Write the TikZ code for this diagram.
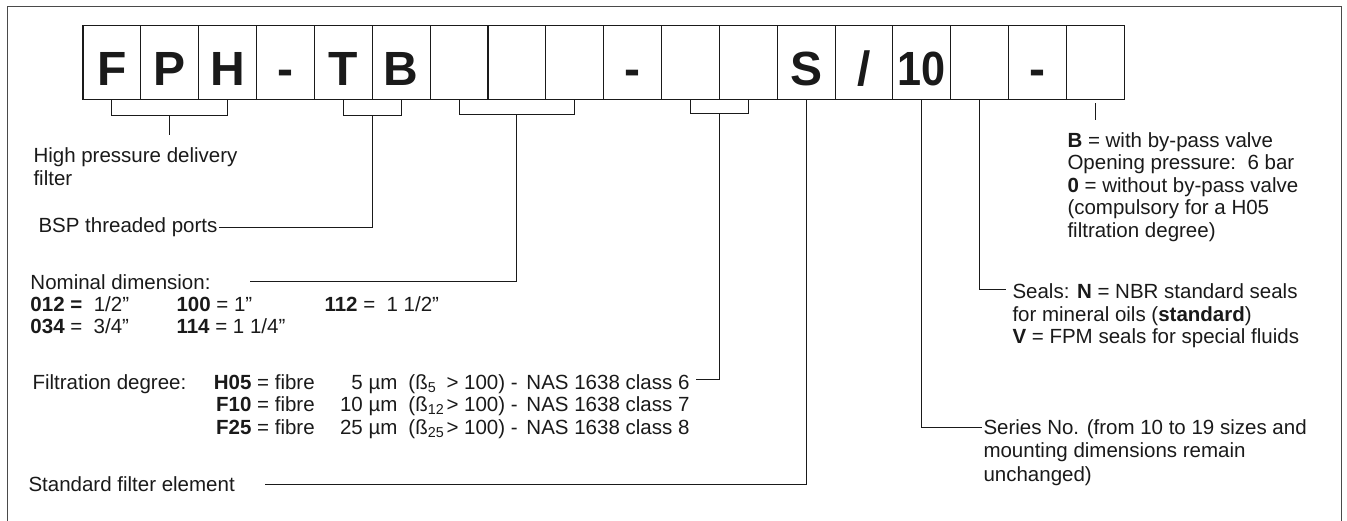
\documentclass[tikz,border=0pt]{standalone}
\usepackage{fontspec}
\usepackage{graphicx}
\setmainfont{Liberation Sans}
\usetikzlibrary{positioning,calc}
\definecolor{ink}{HTML}{1A1A1A}
\definecolor{rim}{HTML}{4A4A4A}
\tikzset{
  every picture/.style={line width=1pt, color=ink},
  cell/.style={draw=ink, line width=1.1pt, minimum width=57.85pt, text height=59.3pt, text depth=14.7pt, inner sep=0pt, font=\fontsize{48}{48}\selectfont\bfseries},
  txt/.style={inner sep=0pt, align=left, font=\fontsize{20.5}{22.5}\selectfont},
  lead/.style={draw=ink, line width=1pt},
}
\begin{document}
\begin{tikzpicture}[x=1pt, y=-1pt]
\useasboundingbox (0,0) rectangle (1347,521);
\draw[rim, line width=1.3pt] (7.3,530) -- (7.3,6.7) -- (1341.5,6.7) -- (1341.5,530);
% code boxes
\foreach \ch [count=\i] in {F,P,H,-,T,B,{},{},{},-,{},{},S,/,{\scalebox{0.9}[1]{10}},{},-,{}}
  \node[cell] (c\i) at ({83+(\i-0.5)*57.85}, 62.85) {\ch};
% brackets
\draw[lead] (c1.south) -- ++(0,15) -| (c3.south);
\draw[lead] ([yshift=-15pt]c2.south) -- ++(0,20);
\draw[lead] (c5.south) -- ++(0,15) -| (c6.south);
\draw[lead] (c7.south) -- ++(0,14) -| (c9.south);
\draw[lead] (c11.south) -- ++(0,13) -| (c12.south);
% left labels (base of a multi-line node = its last line)
\node[txt, anchor=base west] (fph) at (33,185.5) {High pressure delivery\\filter};
\node[txt, anchor=west, inner xsep=1.5pt] (bsp) at (36.5,227.7) {BSP threaded ports};
\draw[lead] ([yshift=-15pt]c5.south east) |- (bsp.east);
\node[txt, anchor=west] (nom) at (30,282) {Nominal dimension:};
\draw[lead] ([yshift=-14pt]c8.south) |- ([xshift=39pt]nom.east);
\node[txt, anchor=base west] (n012) at (30,311.5) {\textbf{012 =}\ \ 1/2”};
\node[txt, anchor=base west] (n100) at (176,311.5) {\textbf{100} = 1”};
\node[txt, anchor=base west] (n112) at (324,311.5) {\textbf{112} =\ \ 1 1/2”};
\node[txt, anchor=base west] (n034) at (30,334) {\textbf{034} =\ \ 3/4”};
\node[txt, anchor=base west] (n114) at (176,334) {\textbf{114} = 1 1/4”};
\node[txt, anchor=base west] (fdeg) at (32,389) {Filtration degree:};
\foreach \fcode/\mic/\bsub/\fcls [count=\r] in {H05/5/5/6, F10/10/12/7, F25/25/25/8}
  \node[txt, anchor=base west] (f\r) at (211,{389+(\r-1)*22.5})
    {\makebox[40pt][r]{\textbf{\fcode}}\makebox[146pt][l]{\ = fibre\hfill\mic\ µm}\hspace{11pt}\makebox[118pt][l]{\makebox[38pt][l]{(ß\textsubscript{\bsub}}> 100) -}NAS 1638 class \fcls};
\draw[lead] ([yshift=-13pt]c11.south east) |- ([xshift=6pt,yshift=4pt]f1.east);
\node[txt, anchor=west] (std) at (28,484) {Standard filter element};
\draw[lead] (c13.south) |- ([xshift=30pt]std.east);
% right labels
\draw[lead] ([yshift=-3pt]c18.south) -- ++(0,17);
\node[txt, anchor=base west] (bypass) at (1067,237.5) {\textbf{B} = with by-pass valve\\Opening pressure:\ \ 6 bar\\\textbf{0} = without by-pass valve\\(compulsory for a H05\\filtration degree)};
\node[txt, anchor=base west] (seals) at (1012,344) {Seals: \textbf{N} = NBR standard seals\\for mineral oils (\textbf{standard})\\\textbf{V} = FPM seals for special fluids};
\draw[lead] (c16.south) |- ([xshift=-6pt,yshift=54pt]seals.base west);
\node[txt, anchor=base west, font=\fontsize{20.5}{23.5}\selectfont] (series) at (983,481) {Series No. (from 10 to 19 sizes and\\mounting dimensions remain\\unchanged)};
\draw[lead] (c15.south) |- ([xshift=-1pt,yshift=54pt]series.base west);
\end{tikzpicture}
\end{document}
